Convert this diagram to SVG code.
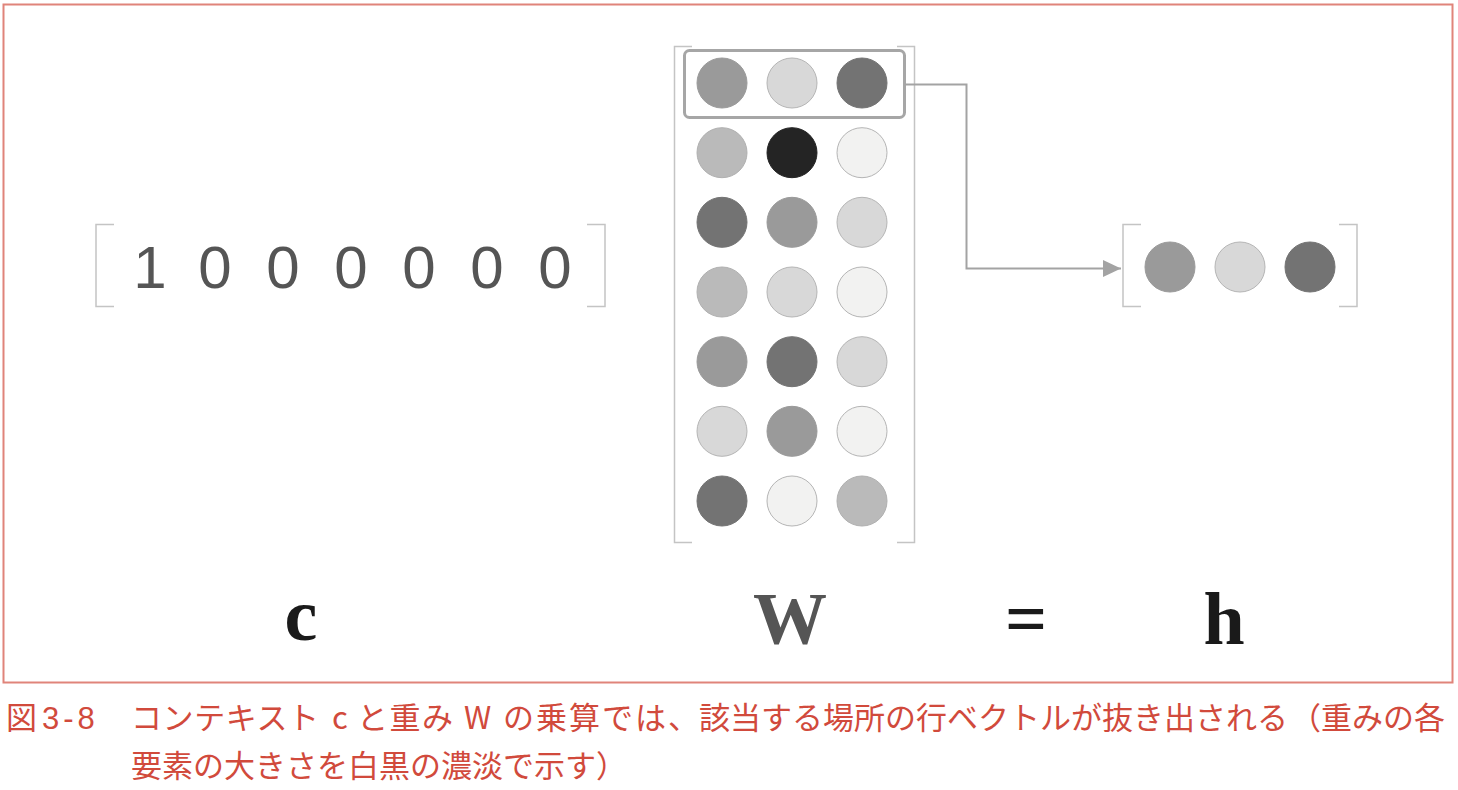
<svg xmlns="http://www.w3.org/2000/svg" width="1458" height="790" viewBox="0 0 1458 790">
<style>
.frame{fill:none;stroke:#e0847a;stroke-width:2}
.br{fill:none;stroke:#c4c4c4;stroke-width:1.5}
.dig{font-family:"Liberation Sans",Arial,sans-serif;font-size:60px;fill:#555;text-anchor:middle}
.lbl{font-family:"Liberation Serif","Times New Roman",serif;font-weight:bold;font-size:74px;text-anchor:middle}
.cap{font-family:"Noto Sans CJK JP","Noto Sans",sans-serif;font-size:31px;fill:#d14a3c}
.num{font-family:"Liberation Sans",Arial,sans-serif;letter-spacing:4px}
.g1{fill:#f2f2f1;stroke:#b5b5b5;stroke-width:1}
.g2{fill:#d8d8d8;stroke:#b5b5b5;stroke-width:1}
.g3{fill:#bababa;stroke:#b0b0b0;stroke-width:1}
.g4{fill:#9a9a9a;stroke:#9a9a9a;stroke-width:1}
.g5{fill:#737373;stroke:#737373;stroke-width:1}
.g6{fill:#242424;stroke:#242424;stroke-width:1}
.conn{fill:none;stroke:#a3a3a3;stroke-width:2}
.hl{fill:none;stroke:#a6a6a6;stroke-width:3}
</style>
<defs>
<marker id="arr" markerWidth="18" markerHeight="17" refX="18" refY="8.5" orient="auto" markerUnits="userSpaceOnUse" viewBox="0 0 18 17">
<path d="M0,0 L18,8.5 L0,17 Z" fill="#a3a3a3"/>
</marker>
</defs>
<rect class="frame" x="3.5" y="4.5" width="1449" height="678"/>

<g id="c-vector">
<path class="br" d="M114,224.5 H96 V306.5 H114"/>
<path class="br" d="M587,224.5 H605 V306.5 H587"/>
<text class="dig" x="150" y="288">1</text>
<text class="dig" x="215" y="288">0</text>
<text class="dig" x="283" y="288">0</text>
<text class="dig" x="351" y="288">0</text>
<text class="dig" x="419" y="288">0</text>
<text class="dig" x="487" y="288">0</text>
<text class="dig" x="555" y="288">0</text>
</g>

<g id="W-matrix">
<path class="br" d="M692,46.5 H674.5 V542.5 H692"/>
<path class="br" d="M897,46.5 H914.5 V542.5 H897"/>
<circle class="g4" cx="722" cy="83" r="25"/>
<circle class="g2" cx="792" cy="83" r="25"/>
<circle class="g5" cx="862" cy="83" r="25"/>
<circle class="g3" cx="722" cy="152.7" r="25"/>
<circle class="g6" cx="792" cy="152.7" r="25"/>
<circle class="g1" cx="862" cy="152.7" r="25"/>
<circle class="g5" cx="722" cy="222.3" r="25"/>
<circle class="g4" cx="792" cy="222.3" r="25"/>
<circle class="g2" cx="862" cy="222.3" r="25"/>
<circle class="g3" cx="722" cy="292" r="25"/>
<circle class="g2" cx="792" cy="292" r="25"/>
<circle class="g1" cx="862" cy="292" r="25"/>
<circle class="g4" cx="722" cy="361.7" r="25"/>
<circle class="g5" cx="792" cy="361.7" r="25"/>
<circle class="g2" cx="862" cy="361.7" r="25"/>
<circle class="g2" cx="722" cy="431.3" r="25"/>
<circle class="g4" cx="792" cy="431.3" r="25"/>
<circle class="g1" cx="862" cy="431.3" r="25"/>
<circle class="g5" cx="722" cy="501" r="25"/>
<circle class="g1" cx="792" cy="501" r="25"/>
<circle class="g3" cx="862" cy="501" r="25"/>
<rect class="hl" x="684.5" y="50.5" width="220" height="67" rx="5"/>
</g>

<g id="h-vector">
<path class="br" d="M1141,224.5 H1123 V306.5 H1141"/>
<path class="br" d="M1339,224.5 H1357 V306.5 H1339"/>
<circle class="g4" cx="1170" cy="267" r="25"/>
<circle class="g2" cx="1240" cy="267" r="25"/>
<circle class="g5" cx="1310" cy="267" r="25"/>
</g>

<g id="connectors">
<path class="conn" d="M905,84.5 H966.5 V268.5 H1121" marker-end="url(#arr)"/>
</g>

<g id="labels">
<text class="lbl" x="301" y="640" fill="#1a1a1a">c</text>
<text class="lbl" x="790" y="644" fill="#555">W</text>
<text class="lbl" x="1026" y="644" fill="#1a1a1a">=</text>
<text class="lbl" x="1224" y="644" fill="#1a1a1a">h</text>
</g>

<g id="caption">
<text class="cap" y="729"><tspan x="6">図</tspan><tspan class="num" x="42">3-8</tspan><tspan x="131" textLength="188" lengthAdjust="spacing">コンテキスト</tspan><tspan x="332">c</tspan><tspan x="357" textLength="96" lengthAdjust="spacing">と重み</tspan><tspan x="464">W</tspan><tspan x="503" textLength="196" lengthAdjust="spacing">の乗算では、</tspan><tspan x="699">該当する場所の行ベクトルが抜き出される</tspan><tspan x="1290">（重みの各</tspan></text>
<text class="cap" x="131" y="777">要素の大きさを白黒の濃淡で示す）</text>
</g>
</svg>
